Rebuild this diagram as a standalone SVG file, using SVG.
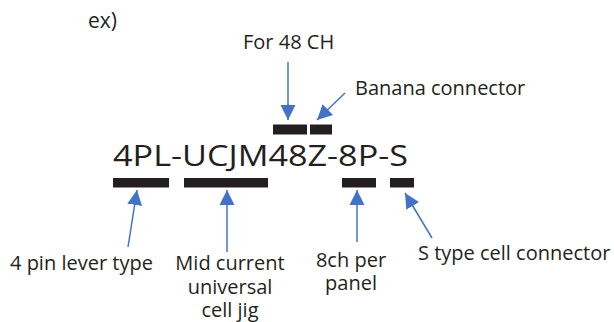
<svg xmlns="http://www.w3.org/2000/svg" width="614" height="322" viewBox="0 0 614 322">
  <style>
    text { font-family: "Open Sans", "Noto Sans", "DejaVu Sans", sans-serif; fill: #231f20; }
    .lbl { font-size: 20px; }
    .code { font-size: 28.5px; font-weight: 400; }
    .bar { fill: #231f20; }
    .arrow { stroke: #4472c4; stroke-width: 1.5; fill: none; marker-end: url(#ah); }
  </style>
  <defs>
    <marker id="ah" markerUnits="userSpaceOnUse" markerWidth="16" markerHeight="16" viewBox="0 0 16 16" refX="15" refY="8" orient="auto">
      <path d="M0,0.5 L15,8 L0,15.5 Z" fill="#4472c4"/>
    </marker>
  </defs>

  <g id="title"><text class="lbl" x="88" y="28" style="font-size:21px">ex)</text></g>

  <g id="code">
    <text class="code" x="113" y="166" textLength="295" lengthAdjust="spacingAndGlyphs">4PL-UCJM48Z-8P-S</text>
  </g>

  <g id="bars">
    <rect class="bar" x="273" y="124.5" width="34" height="10"/>
    <rect class="bar" x="310" y="124.5" width="22" height="10"/>
    <rect class="bar" x="113" y="178" width="56" height="9.5"/>
    <rect class="bar" x="184" y="178" width="84" height="9.5"/>
    <rect class="bar" x="342" y="178" width="34" height="9.5"/>
    <rect class="bar" x="390" y="178" width="24" height="9.5"/>
  </g>

  <g id="node-for48ch"><text class="lbl" x="243" y="49">For 48 CH</text></g>
  <g id="node-banana"><text class="lbl" x="355" y="95">Banana connector</text></g>
  <g id="node-4pin"><text class="lbl" x="10" y="270">4 pin lever type</text></g>
  <g id="node-mid">
    <text class="lbl" x="230" y="270" text-anchor="middle">Mid current</text>
    <text class="lbl" x="230" y="294" text-anchor="middle">universal</text>
    <text class="lbl" x="230" y="317" text-anchor="middle">cell jig</text>
  </g>
  <g id="node-8ch">
    <text class="lbl" x="351" y="267" text-anchor="middle">8ch per</text>
    <text class="lbl" x="351" y="290" text-anchor="middle">panel</text>
  </g>
  <g id="node-stype"><text class="lbl" x="418" y="260">S type cell connector</text></g>

  <g id="connectors">
    <line class="arrow" x1="288" y1="62" x2="288" y2="120"/>
    <line class="arrow" x1="345" y1="93" x2="317" y2="120"/>
    <line class="arrow" x1="128" y1="247" x2="137" y2="190"/>
    <line class="arrow" x1="227" y1="252" x2="227" y2="190"/>
    <line class="arrow" x1="357" y1="242" x2="357" y2="190"/>
    <line class="arrow" x1="432" y1="238" x2="405" y2="193"/>
  </g>
</svg>
